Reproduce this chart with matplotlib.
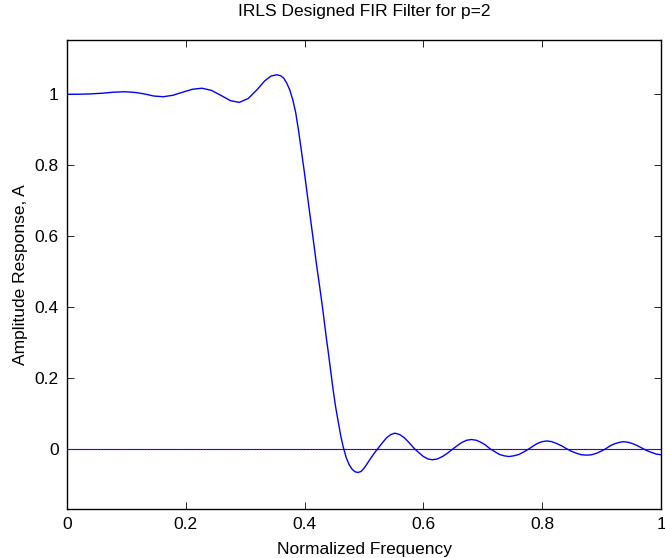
import matplotlib
matplotlib.use("Agg")
import matplotlib.pyplot as plt

# amplitude response
freq = [0.000, 0.020, 0.040, 0.060, 0.080, 0.098, 0.115, 0.130, 0.146, 0.162,
        0.178, 0.195, 0.211, 0.227, 0.243, 0.260, 0.275, 0.290, 0.305, 0.320,
        0.333, 0.343, 0.353, 0.360, 0.365, 0.370, 0.375, 0.380, 0.385, 0.390,
        0.395, 0.400, 0.405, 0.410, 0.415, 0.420, 0.426, 0.430, 0.437, 0.440,
        0.448, 0.452, 0.457, 0.461, 0.465, 0.470, 0.475, 0.480, 0.485, 0.490,
        0.495, 0.500, 0.505, 0.510, 0.517, 0.524, 0.531, 0.538, 0.545, 0.552,
        0.560, 0.568, 0.576, 0.585, 0.593, 0.600, 0.608, 0.615, 0.623, 0.632,
        0.641, 0.650, 0.658, 0.665, 0.673, 0.681, 0.689, 0.697, 0.705, 0.712,
        0.720, 0.728, 0.736, 0.744, 0.752, 0.761, 0.770, 0.778, 0.785, 0.792,
        0.800, 0.808, 0.816, 0.824, 0.833, 0.841, 0.849, 0.858, 0.866, 0.875,
        0.883, 0.891, 0.899, 0.907, 0.914, 0.922, 0.930, 0.937, 0.945, 0.953,
        0.961, 0.970, 0.977, 0.985, 0.992, 1.000]
amp = [1.000, 1.000, 1.001, 1.003, 1.006, 1.007, 1.005, 1.001, 0.995, 0.993,
       0.997, 1.006, 1.014, 1.017, 1.011, 0.996, 0.982, 0.977, 0.988, 1.013,
       1.038, 1.051, 1.055, 1.052, 1.045, 1.031, 1.012, 0.985, 0.948, 0.895,
       0.835, 0.775, 0.710, 0.647, 0.584, 0.520, 0.449, 0.400, 0.307, 0.270,
       0.166, 0.120, 0.072, 0.035, 0.005, -0.025, -0.045, -0.058, -0.065, -0.067,
       -0.064, -0.055, -0.043, -0.030, -0.013, 0.002, 0.017, 0.031, 0.040, 0.044,
       0.040, 0.031, 0.017, 0.000, -0.012, -0.022, -0.029, -0.031, -0.029, -0.022,
       -0.012, 0.000, 0.010, 0.018, 0.024, 0.026, 0.024, 0.018, 0.010, 0.000,
       -0.008, -0.016, -0.020, -0.022, -0.020, -0.016, -0.008, 0.000, 0.008, 0.015,
       0.020, 0.022, 0.020, 0.015, 0.008, 0.000, -0.007, -0.013, -0.017, -0.018,
       -0.017, -0.013, -0.007, 0.000, 0.008, 0.014, 0.018, 0.020, 0.018, 0.014,
       0.008, 0.000, -0.006, -0.011, -0.015, -0.017]

zero_x = [0, 1]
zero_y = [0, 0]

plt.rcParams["font.family"] = ["Liberation Sans", "DejaVu Sans"]
plt.rcParams["font.size"] = 12.5

fig = plt.figure(figsize=(6.65, 5.58), dpi=100)
ax = fig.add_axes([0.1008, 0.0878, 0.8932, 0.8405])

ax.plot(zero_x, zero_y, color="blue", linewidth=0.8)
ax.plot(zero_x, zero_y, color="red", linewidth=0.8, linestyle=":")
ax.plot(freq, amp, color="blue", linewidth=1.0)

ax.set_xlim(0, 1)
ax.set_ylim(-0.17, 1.153)
ax.set_xticks([0, 0.2, 0.4, 0.6, 0.8, 1])
ax.set_xticklabels(["0", "0.2", "0.4", "0.6", "0.8", "1"])
ax.set_yticks([0, 0.2, 0.4, 0.6, 0.8, 1])
ax.set_yticklabels(["0", "0.2", "0.4", "0.6", "0.8", "1"])
ax.tick_params(direction="in", top=True, right=True, length=5, width=0.6, pad=6)
for s in ax.spines.values():
    s.set_linewidth(1.0)

ax.set_title("IRLS Designed FIR Filter for p=2", fontsize=12.5, pad=17)
ax.set_xlabel("Normalized Frequency", labelpad=7)
ax.set_ylabel("Amplitude Response, A", labelpad=5)

fig.savefig("out.png", dpi=100)
